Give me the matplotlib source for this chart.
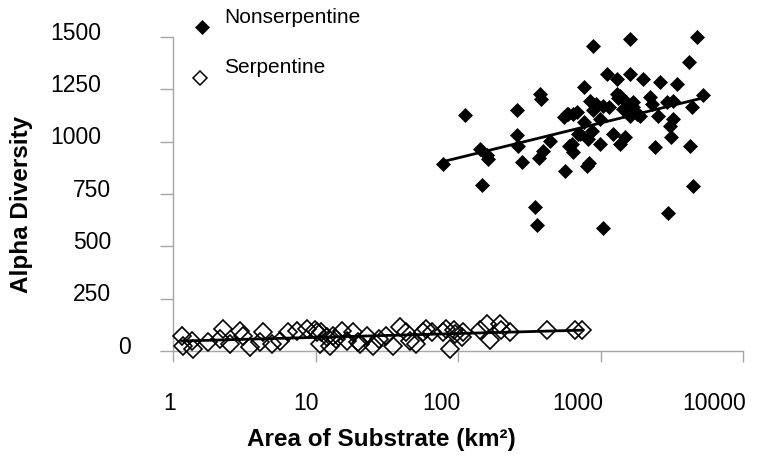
import numpy as np
import matplotlib
matplotlib.use("Agg")
import matplotlib.pyplot as plt
from matplotlib.lines import Line2D
from matplotlib import transforms

# ---------------- data ----------------
nonserp_area = [78, 112, 147, 143, 160, 163, 258, 259, 262, 280, 376, 380, 348, 357, 370,
                395, 442, 550, 579, 596, 640, 681, 564, 600, 630, 640, 700, 718, 760, 760,
                800, 830, 815, 844, 870, 890, 891, 935, 992, 990, 1036, 1047, 1105, 1150,
                1230, 1300, 1300, 1330, 1370, 1380, 1445, 1486, 1520, 1600, 1610, 1610,
                1700, 1700, 1800, 1900, 1995, 2225, 2300, 2400, 2545, 2616, 2915, 2990,
                3085, 3240, 3240, 3100, 3425, 4200, 4250, 4365, 4480, 4730, 5260]
nonserp_alpha = [893, 1128, 795, 965, 935, 915, 1153, 1032, 977, 904, 1228, 1205, 686, 603, 920,
                 957, 1005, 1117, 1132, 1132, 1130, 1140, 861, 981, 990, 950, 1037, 1037, 1093, 1260,
                 885, 900, 1013, 1196, 1053, 1150, 1459, 1180, 1108, 990, 586, 1172, 1323, 1165,
                 1037, 1300, 1228, 1210, 1220, 990, 1156, 1021, 1188, 1125, 1491, 1323,
                 1165, 1188, 1130, 1125, 1300, 1212, 1180, 973, 1124, 1284, 1188, 658,
                 1077, 1196, 1110, 1020, 1276, 1379, 981, 1164, 790, 1500, 1223]

serp_area = [1.15, 1.18, 1.35, 1.39, 1.77, 2.14, 2.25, 2.5, 2.95, 3.1, 3.47, 4.07, 4.3, 4.93,
             5.63, 6.45, 7.38, 8.67, 9.9, 10.2, 10.7, 11, 12, 12.6, 13.2, 13.9, 15.3, 16.6,
             18.4, 20, 20.5, 22.8, 25.4, 28, 31, 35, 39, 43, 46, 51, 57, 60, 66, 79, 83, 88,
             93, 95, 106, 108, 143, 159, 168, 197, 200, 232, 419, 661, 738]
serp_alpha = [73, 25, 49, 10, 41, 57, 105, 33, 97, 70, 18, 41, 89, 33,
              49, 89, 97, 105, 99, 89, 33, 91, 67, 25, 73, 59, 97, 49,
              91, 43, 33, 73, 25, 55, 73, 25, 113, 89, 49, 33, 89, 105, 89, 91, 105, 10,
              99, 81, 67, 91, 99, 131, 51, 131, 99, 91, 99, 99, 99]

series_names = ["Nonserpentine", "Serpentine"]
x_ticks = [1, 10, 100, 1000, 10000]
x_tick_labels = ["1", "10", "100", "1000", "10000"]
y_ticks = [0, 250, 500, 750, 1000, 1250, 1500]
y_tick_labels = ["0", "250", "500", "750", "1000", "1250", "1500"]

# ---------------- style ----------------
plt.rcParams['font.family'] = ['Liberation Sans', 'DejaVu Sans']
W, H, DPI = 757, 460, 100
fig = plt.figure(figsize=(W / DPI, H / DPI), dpi=DPI)
L, R, T, B = 173, 743, 38, 352
ax = fig.add_axes([L / W, 1 - B / H, (R - L) / W, (B - T) / H])

axis_gray = '#a6a6a6'
ax.set_xscale('log')
ax.set_xlim(1, 10000)
ax.set_ylim(0, 1500)
for s in ['top', 'right']:
    ax.spines[s].set_visible(False)
for s in ['left', 'bottom']:
    ax.spines[s].set_color(axis_gray)
    ax.spines[s].set_linewidth(1.0)
ax.set_xticks(x_ticks)
ax.set_yticks(y_ticks)
ax.xaxis.set_minor_locator(matplotlib.ticker.NullLocator())
ax.tick_params(axis='both', colors=axis_gray, width=1.0, labelleft=False, labelbottom=False)
ax.tick_params(axis='y', length=9.4)
ax.tick_params(axis='x', length=8)

# scatter
ax.plot(nonserp_area, nonserp_alpha, linestyle='none', marker='D', ms=7.2,
        mfc='black', mec='black', mew=0.5, clip_on=False, zorder=3)
ax.plot(serp_area, serp_alpha, linestyle='none', marker='D', ms=9.0,
        mfc='none', mec='black', mew=1.2, clip_on=False, zorder=3)

# log trendlines (least squares in log10 area)
for xs, ys in [(nonserp_area, nonserp_alpha), (serp_area, serp_alpha)]:
    lx = np.log10(np.asarray(xs, float))
    b, a = np.polyfit(lx, np.asarray(ys, float), 1)
    xx = np.array([min(xs), max(xs)])
    ax.plot(xx, a + b * np.log10(xx), color='black', lw=2.0, zorder=4, clip_on=False)

# tick labels (custom placement like the original)
tick_fs = 16.5
for v, lab in zip(y_ticks, y_tick_labels):
    off = transforms.ScaledTranslation((-72 + 10 * (4 - len(lab))) / DPI, 5 / DPI, fig.dpi_scale_trans)
    ax.text(0, v, lab, ha='right', va='center', fontsize=tick_fs,
            transform=transforms.blended_transform_factory(ax.transAxes, ax.transData) + off)
for v, lab in zip(x_ticks, x_tick_labels):
    off = transforms.ScaledTranslation(3 / DPI, -(403 - B) / DPI, fig.dpi_scale_trans)
    ax.text(v, 0, lab, ha='right', va='center', fontsize=tick_fs,
            transform=transforms.blended_transform_factory(ax.transData, ax.transAxes) + off)

# axis titles
fig.text(22 / W, 1 - 204 / H, 'Alpha Diversity', rotation=90, ha='center', va='center',
         fontsize=17.5, fontweight='bold')
fig.text(381 / W, 1 - 440 / H, 'Area of Substrate (km²)', ha='center', va='center',
         fontsize=17.5, fontweight='bold')

# legend (manual)
fig.add_artist(Line2D([201.7 / W], [1 - 28 / H], transform=fig.transFigure, marker='D', ms=6.8,
                      mfc='black', mec='black', mew=0.5, linestyle='none'))
fig.add_artist(Line2D([200 / W], [1 - 79 / H], transform=fig.transFigure, marker='D', ms=7.5,
                      mfc='white', mec='black', mew=1.1, linestyle='none'))
fig.text(224 / W, 1 - 17.5 / H, series_names[0], ha='left', va='center', fontsize=15)
fig.text(224 / W, 1 - 67.5 / H, series_names[1], ha='left', va='center', fontsize=15)

fig.savefig('out.png', dpi=DPI)
